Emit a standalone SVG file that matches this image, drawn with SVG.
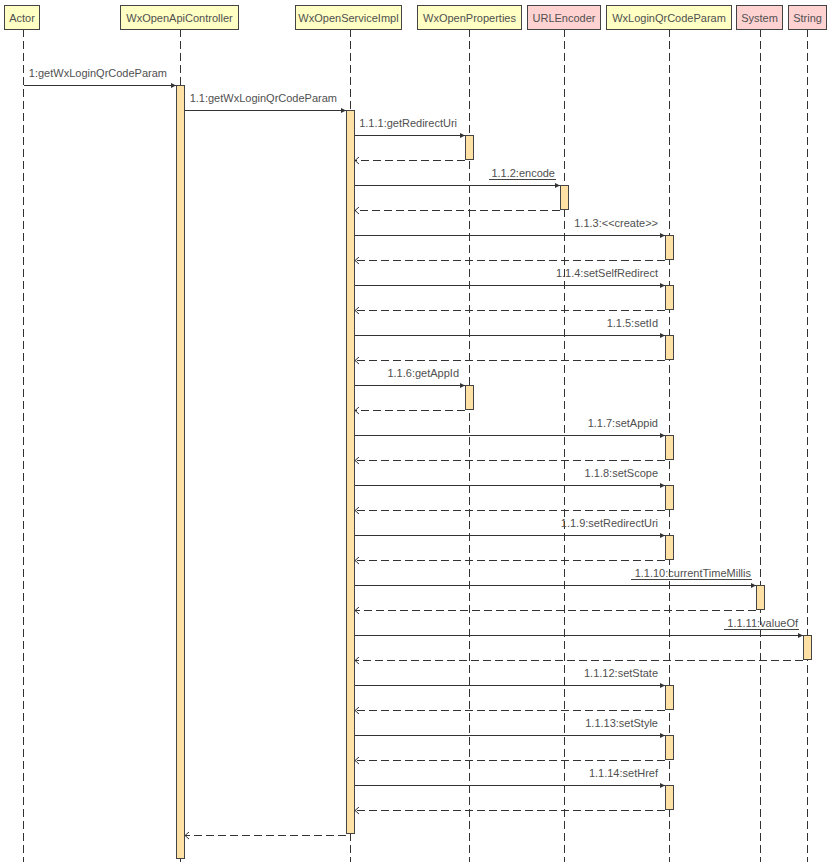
<svg xmlns="http://www.w3.org/2000/svg" width="832" height="865" viewBox="0 0 832 865">
<defs>
<style>
.hdr{stroke:#444;stroke-width:1}
.y{fill:#FFFFC4}
.p{fill:#FFD2D2}
.t{font-family:"Liberation Sans",Arial,sans-serif;font-size:11px;fill:#505050}
.life{stroke:#333;stroke-width:1;stroke-dasharray:8,4;fill:none}
.act{fill:#FFE0A5;stroke:#444;stroke-width:1}
.call{stroke:#333;stroke-width:1;fill:none;marker-end:url(#fa)}
.ret{stroke:#333;stroke-width:1;fill:none;stroke-dasharray:8,4;marker-end:url(#oa)}
.ul{stroke:#444;stroke-width:1}
</style>
<marker id="fa" markerWidth="6" markerHeight="6" refX="5" refY="3" orient="auto" markerUnits="userSpaceOnUse">
<path d="M0,0.5 L5,3 L0,5.5 Z" fill="#333"/>
</marker>
<marker id="oa" markerWidth="8" markerHeight="8" refX="4.5" refY="4" orient="auto" markerUnits="userSpaceOnUse">
<path d="M0.5,0.5 L4.5,4 L0.5,7.5" fill="none" stroke="#333" stroke-width="1"/>
</marker>
</defs>
<rect width="832" height="865" fill="#fff"/>

<g id="lifelines">
<line class="life" x1="23.5" y1="29" x2="23.5" y2="862"/>
<line class="life" x1="180.5" y1="29" x2="180.5" y2="862"/>
<line class="life" x1="350.5" y1="29" x2="350.5" y2="862"/>
<line class="life" x1="469.5" y1="29" x2="469.5" y2="862"/>
<line class="life" x1="564.5" y1="29" x2="564.5" y2="862"/>
<line class="life" x1="669.5" y1="29" x2="669.5" y2="862"/>
<line class="life" x1="760.5" y1="29" x2="760.5" y2="862"/>
<line class="life" x1="807.5" y1="29" x2="807.5" y2="862"/>
</g>

<g id="Actor"><rect class="hdr y" x="4.5" y="5.5" width="35" height="24"/><text class="t" x="22" y="21.5" text-anchor="middle">Actor</text></g>
<g id="WxOpenApiController"><rect class="hdr y" x="120.5" y="5.5" width="118" height="24"/><text class="t" x="179.5" y="21.5" text-anchor="middle">WxOpenApiController</text></g>
<g id="WxOpenServiceImpl"><rect class="hdr y" x="295.5" y="5.5" width="106" height="24"/><text class="t" x="348.5" y="21.5" text-anchor="middle">WxOpenServiceImpl</text></g>
<g id="WxOpenProperties"><rect class="hdr y" x="417.5" y="5.5" width="104" height="24"/><text class="t" x="469.5" y="21.5" text-anchor="middle">WxOpenProperties</text></g>
<g id="URLEncoder"><rect class="hdr p" x="527.5" y="5.5" width="73" height="24"/><text class="t" x="564" y="21.5" text-anchor="middle">URLEncoder</text></g>
<g id="WxLoginQrCodeParam"><rect class="hdr y" x="606.5" y="5.5" width="125" height="24"/><text class="t" x="669" y="21.5" text-anchor="middle">WxLoginQrCodeParam</text></g>
<g id="System"><rect class="hdr p" x="736.5" y="5.5" width="46" height="24"/><text class="t" x="759.5" y="21.5" text-anchor="middle">System</text></g>
<g id="String"><rect class="hdr p" x="788.5" y="5.5" width="38" height="24"/><text class="t" x="807.5" y="21.5" text-anchor="middle">String</text></g>

<g id="activations">
<rect class="act" x="176.5" y="85.5" width="8" height="773"/>
<rect class="act" x="346.5" y="110.5" width="8" height="723"/>
<rect class="act" x="465.5" y="135.5" width="8" height="24"/>
<rect class="act" x="560.5" y="185.5" width="8" height="24"/>
<rect class="act" x="665.5" y="235.5" width="8" height="24"/>
<rect class="act" x="665.5" y="285.5" width="8" height="24"/>
<rect class="act" x="665.5" y="335.5" width="8" height="24"/>
<rect class="act" x="465.5" y="385.5" width="8" height="24"/>
<rect class="act" x="665.5" y="435.5" width="8" height="24"/>
<rect class="act" x="665.5" y="485.5" width="8" height="24"/>
<rect class="act" x="665.5" y="535.5" width="8" height="24"/>
<rect class="act" x="756.5" y="585.5" width="8" height="24"/>
<rect class="act" x="803.5" y="635.5" width="8" height="24"/>
<rect class="act" x="665.5" y="685.5" width="8" height="24"/>
<rect class="act" x="665.5" y="735.5" width="8" height="24"/>
<rect class="act" x="665.5" y="785.5" width="8" height="24"/>
</g>

<g id="connectors">
<line class="call" x1="24" y1="85.5" x2="176" y2="85.5"/>
<line class="call" x1="185" y1="110.5" x2="346" y2="110.5"/>
<line class="call" x1="355" y1="135.5" x2="465" y2="135.5"/>
<line class="ret" x1="465" y1="160.5" x2="355" y2="160.5"/>
<line class="call" x1="355" y1="185.5" x2="560" y2="185.5"/>
<line class="ret" x1="560" y1="210.5" x2="355" y2="210.5"/>
<line class="call" x1="355" y1="235.5" x2="665" y2="235.5"/>
<line class="ret" x1="665" y1="260.5" x2="355" y2="260.5"/>
<line class="call" x1="355" y1="285.5" x2="665" y2="285.5"/>
<line class="ret" x1="665" y1="310.5" x2="355" y2="310.5"/>
<line class="call" x1="355" y1="335.5" x2="665" y2="335.5"/>
<line class="ret" x1="665" y1="360.5" x2="355" y2="360.5"/>
<line class="call" x1="355" y1="385.5" x2="465" y2="385.5"/>
<line class="ret" x1="465" y1="410.5" x2="355" y2="410.5"/>
<line class="call" x1="355" y1="435.5" x2="665" y2="435.5"/>
<line class="ret" x1="665" y1="460.5" x2="355" y2="460.5"/>
<line class="call" x1="355" y1="485.5" x2="665" y2="485.5"/>
<line class="ret" x1="665" y1="510.5" x2="355" y2="510.5"/>
<line class="call" x1="355" y1="535.5" x2="665" y2="535.5"/>
<line class="ret" x1="665" y1="560.5" x2="355" y2="560.5"/>
<line class="call" x1="355" y1="585.5" x2="756" y2="585.5"/>
<line class="ret" x1="756" y1="610.5" x2="355" y2="610.5"/>
<line class="call" x1="355" y1="635.5" x2="803" y2="635.5"/>
<line class="ret" x1="803" y1="660.5" x2="355" y2="660.5"/>
<line class="call" x1="355" y1="685.5" x2="665" y2="685.5"/>
<line class="ret" x1="665" y1="710.5" x2="355" y2="710.5"/>
<line class="call" x1="355" y1="735.5" x2="665" y2="735.5"/>
<line class="ret" x1="665" y1="760.5" x2="355" y2="760.5"/>
<line class="call" x1="355" y1="785.5" x2="665" y2="785.5"/>
<line class="ret" x1="665" y1="810.5" x2="355" y2="810.5"/>
<line class="ret" x1="346" y1="835.5" x2="185" y2="835.5"/>
</g>

<g id="labels">
<text class="t" x="167" y="77" text-anchor="end">1:getWxLoginQrCodeParam</text>
<text class="t" x="337" y="102" text-anchor="end">1.1:getWxLoginQrCodeParam</text>
<text class="t" x="457" y="127" text-anchor="end">1.1.1:getRedirectUri</text>
<text class="t" x="555" y="177" text-anchor="end">1.1.2:encode</text>
<line class="ul" x1="489" y1="179.5" x2="556" y2="179.5"/>
<text class="t" x="658" y="227" text-anchor="end">1.1.3:&lt;&lt;create&gt;&gt;</text>
<text class="t" x="658" y="277" text-anchor="end">1.1.4:setSelfRedirect</text>
<text class="t" x="658" y="327" text-anchor="end">1.1.5:setId</text>
<text class="t" x="459" y="377" text-anchor="end">1.1.6:getAppId</text>
<text class="t" x="658" y="427" text-anchor="end">1.1.7:setAppid</text>
<text class="t" x="658" y="477" text-anchor="end">1.1.8:setScope</text>
<text class="t" x="658" y="527" text-anchor="end">1.1.9:setRedirectUri</text>
<text class="t" x="751" y="577" text-anchor="end">1.1.10:currentTimeMillis</text>
<line class="ul" x1="631" y1="579.5" x2="752" y2="579.5"/>
<text class="t" x="798" y="627" text-anchor="end">1.1.11:valueOf</text>
<line class="ul" x1="724" y1="629.5" x2="799" y2="629.5"/>
<text class="t" x="658" y="677" text-anchor="end">1.1.12:setState</text>
<text class="t" x="658" y="727" text-anchor="end">1.1.13:setStyle</text>
<text class="t" x="658" y="777" text-anchor="end">1.1.14:setHref</text>
</g>
</svg>
